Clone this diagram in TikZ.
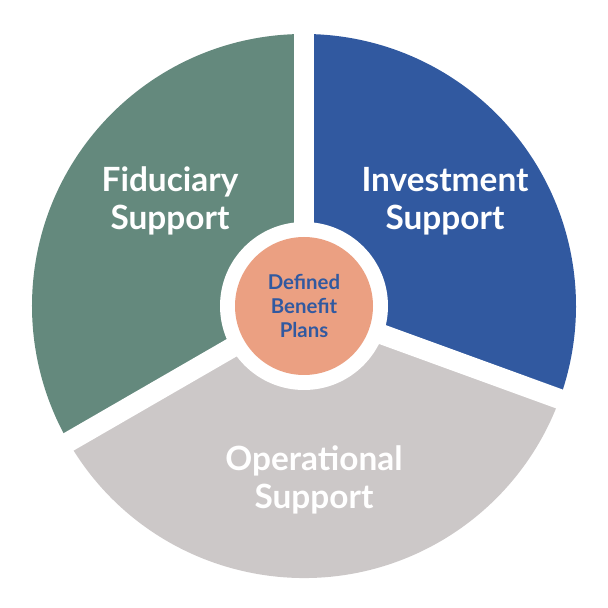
\documentclass[tikz,border=0pt]{standalone}
\usepackage{fontspec}
\setmainfont{Lato}
\usetikzlibrary{calc}
\definecolor{fidgreen}{RGB}{100,137,125}
\definecolor{invblue}{RGB}{49,89,160}
\definecolor{opgray}{RGB}{204,200,200}
\definecolor{dbporange}{RGB}{235,160,130}
\begin{document}
\begin{tikzpicture}
%===styles===
\tikzset{sector label/.style ={text=white, align=center, font=\bfseries\fontsize{19}{21.6}\selectfont}}
\tikzset{core label/.style ={circle, fill=dbporange, text=invblue, align=center, minimum size=2.76cm, font=\bfseries\fontsize{11.6}{13.8}\selectfont}}
\useasboundingbox (-6.08,-6.04) rectangle (6.08,6.12);
%===scheme=====
\coordinate (o) at (0,0);
\coordinate (top) at (90:5.6);
\coordinate (right) at (-20:5.6);
\coordinate (left) at (210:5.6);
%===sectors===
\fill[fidgreen] (o) -- (90:5.44) arc[start angle=90, end angle=210, radius=5.44] -- cycle;
\fill[invblue] (o) -- (-20:5.44) arc[start angle=-20, end angle=90, radius=5.44] -- cycle;
\fill[opgray] (o) -- (210:5.44) arc[start angle=210, end angle=340, radius=5.44] -- cycle;
%===gaps===
\draw[white, line width=0.4cm] (o) -- (top);
\draw[white, line width=0.4cm] (o) -- (right);
\draw[white, line width=0.4cm] (o) -- (left);
\fill[white] (o) circle[radius=1.68];
%===labels===
\node[core label] (dbp) at (o) {Defined\\Benefit\\Plans};
\node[sector label] (fid) at (-2.68,2.1) {Fiduciary\\Support};
\node[sector label] (inv) at (2.82,2.1) {Investment\\Support};
\node[sector label] (ops) at (0.2,-3.48) {Operational\\Support};
\end{tikzpicture}
\end{document}
